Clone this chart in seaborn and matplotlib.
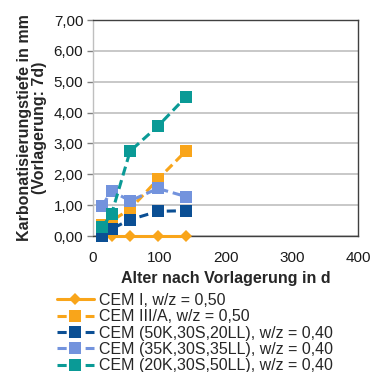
import matplotlib
matplotlib.use("Agg")
import matplotlib.pyplot as plt
import seaborn as sns
import pandas as pd

sns.set_theme(style="white")
plt.rcParams['font.family'] = ['Liberation Sans', 'DejaVu Sans']

days = [14, 28, 56, 98, 140]
cem1_days = [28, 56, 98, 140]
cem1 = [0.0, 0.0, 0.0, 0.0]
cem3a = [0.35, 0.49, 0.87, 1.84, 2.75]
k50 = [0.0, 0.23, 0.53, 0.80, 0.82]
k35 = [0.98, 1.46, 1.14, 1.54, 1.28]
k20 = [0.29, 0.71, 2.75, 3.56, 4.50]

labels = ["CEM I, w/z = 0,50", "CEM III/A, w/z = 0,50",
          "CEM (50K,30S,20LL), w/z = 0,40", "CEM (35K,30S,35LL), w/z = 0,40",
          "CEM (20K,30S,50LL), w/z = 0,40"]
colors = ["#F9A51A", "#F9A51A", "#0B4F94", "#7393DD", "#0A9A96"]

yticks = [0, 1, 2, 3, 4, 5, 6, 7]
ytick_labels = ["0,00", "1,00", "2,00", "3,00", "4,00", "5,00", "6,00", "7,00"]
xticks = [0, 100, 200, 300, 400]

series = [(cem1_days, cem1), (days, cem3a), (days, k50), (days, k35), (days, k20)]
frames = []
for lab, (xs, ys) in zip(labels, series):
    frames.append(pd.DataFrame({"x": xs, "y": ys, "s": lab}))
df = pd.concat(frames)

fig = plt.figure(figsize=(3.72, 3.72), dpi=100)
ax = fig.add_axes([93/372, 1-236/372, (358-93)/372, (236-20)/372])

markers = ["D", "s", "s", "s", "s"]
dashes = ["", (3, 1.6), (3, 1.6), (3, 1.6), (3, 1.6)]
msizes = [6, 8.5, 8.5, 8.5, 8.5]
for i, lab in enumerate(labels):
    sub = df[df.s == lab]
    sns.lineplot(data=sub, x="x", y="y", ax=ax, color=colors[i], marker=markers[i],
                 markersize=msizes[i], markeredgewidth=0, linewidth=2.2,
                 label=lab, legend=False, zorder=3 + i * 0.1, clip_on=False)
    if dashes[i]:
        ax.lines[-1].set_dashes(dashes[i])

ax.set_xlim(0, 400)
ax.set_ylim(0, 7)
ax.set_xticks(xticks)
ax.set_xticklabels([str(t) for t in xticks], fontsize=11)
ax.set_yticks(yticks)
ax.set_yticklabels(ytick_labels, fontsize=11)
ax.yaxis.grid(True, color="#BFBFBF", linewidth=1.2)
ax.xaxis.grid(False)
for sp in ax.spines.values():
    sp.set_visible(True)
    sp.set_color("#404040")
    sp.set_linewidth(1.0)
ax.spines['left'].set_color("#BFBFBF")
ax.tick_params(axis='y', which='both', left=True, length=4, width=1, color="#808080", pad=3, labelcolor="#1a1a1a")
ax.tick_params(axis='x', which='both', bottom=False, pad=5, labelcolor="#1a1a1a")

ax.set_xlabel("Alter nach Vorlagerung in d", fontsize=11.5, fontweight="bold", labelpad=4)
ax.set_ylabel("Karbonatisierungstiefe in mm\n(Vorlagerung: 7d)", fontsize=11.5,
              fontweight="bold", labelpad=5, linespacing=0.95)

handles, labs = ax.get_legend_handles_labels()
leg = fig.legend(handles, labs, loc="upper left", bbox_to_anchor=(57/372, 1-293/372),
                 frameon=False, fontsize=11.5, handlelength=2.3, handletextpad=0.35,
                 labelspacing=0.08, borderaxespad=0, borderpad=0)

fig.savefig("out.png", dpi=100)
